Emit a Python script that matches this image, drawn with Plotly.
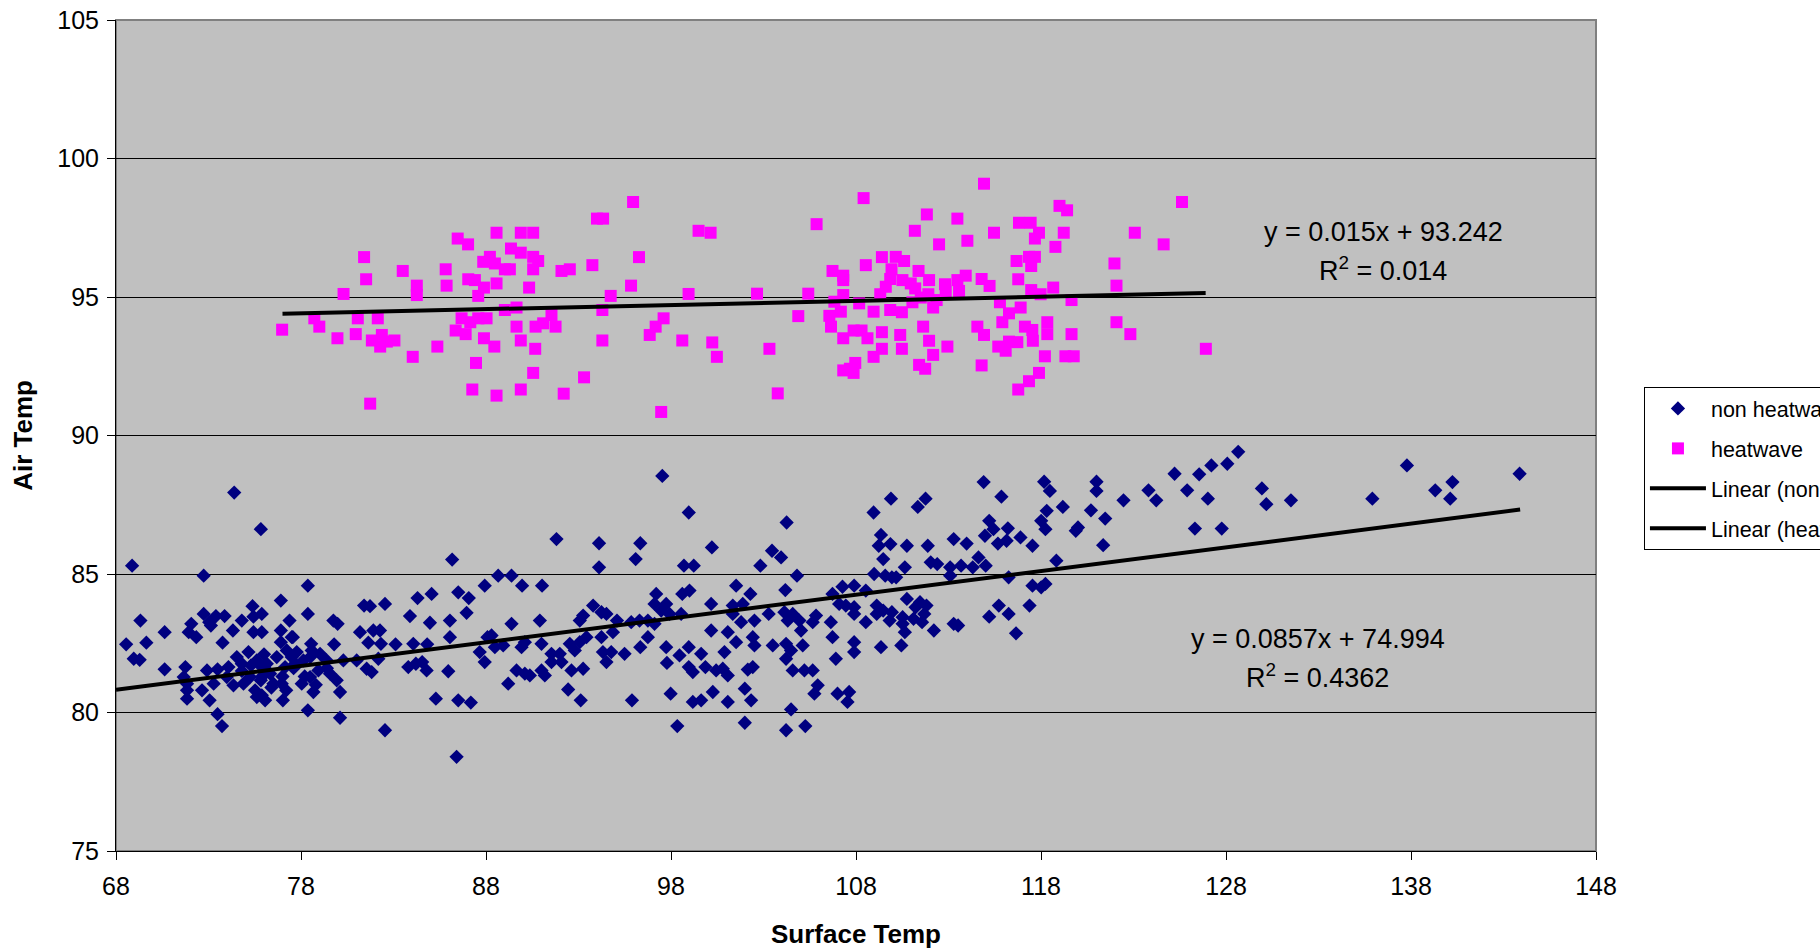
import plotly.graph_objects as go

# ---------------- data ----------------
nonhw_x = [
    74.39, 75.83, 68.87, 72.74, 78.37, 86.17, 86.50, 87.07, 87.93, 76.91,
    75.38, 75.88, 75.43, 72.74, 73.40, 73.87, 73.04, 74.80, 69.32, 72.07,
    71.93, 72.34, 73.13, 74.32, 75.43, 75.88, 77.38, 78.37, 76.91, 77.56,
    70.63, 68.55, 69.64, 68.96, 69.28, 70.63, 73.76, 75.16, 76.91, 78.55,
    79.75, 79.98, 79.79, 81.19, 81.41, 81.73, 82.54, 81.91, 82.27, 81.64,
    82.32, 83.11, 83.89, 84.30, 85.06, 84.97, 86.05, 86.95, 86.05, 84.07,
    84.82, 88.08, 87.66, 87.93, 83.80, 84.21, 84.55, 84.79, 85.96, 85.29,
    86.50, 87.18, 86.41, 82.54, 80.11, 78.37, 73.49, 73.73, 71.84, 71.84,
    71.75, 71.66, 72.65, 73.06, 73.28, 72.92, 73.49, 74.08, 74.35, 74.89,
    75.25, 75.61, 75.88, 75.52, 76.06, 75.83, 76.33, 76.51, 77.02, 76.96,
    77.14, 77.50, 77.77, 78.13, 78.04, 78.67, 78.49, 78.94, 79.03, 79.39,
    79.57, 80.11, 79.93, 80.29, 81.01, 81.55, 81.82, 76.69, 76.15, 74.80,
    74.53, 73.99, 77.23, 78.58, 75.61, 75.88, 77.50, 71.84, 82.18, 77.68,
    74.80, 75.30, 75.90, 76.40, 77.00, 77.60, 78.20, 78.80, 79.40, 76.00,
    77.20, 78.50,
    97.53, 98.96, 104.25, 108.95, 91.81, 94.11, 96.34, 96.09, 94.11, 100.21,
    98.70, 99.23, 103.46, 103.95, 102.83, 104.81, 88.66, 89.38, 89.95, 91.03,
    98.61, 99.00, 97.20, 101.52, 102.29, 104.18, 107.27, 107.90, 108.53, 108.98,
    93.79, 94.24, 94.51, 93.25, 93.07, 95.08, 95.85, 96.30, 96.75, 97.11,
    97.47, 97.74, 97.92, 98.55, 97.11, 100.17, 101.34, 101.88, 101.34, 101.79,
    102.51, 103.28, 104.13, 104.58, 104.94, 104.31, 105.84, 105.66, 106.73, 107.09,
    107.45, 107.90, 106.64, 108.53, 107.90, 89.38, 90.91, 88.30, 88.48, 88.93,
    89.92, 90.10, 91.00, 91.54, 91.99, 92.53, 93.07, 93.43, 92.80, 94.24,
    94.32, 94.86, 94.77, 95.49, 96.34, 96.75, 97.74, 98.46, 98.96, 99.63,
    100.17, 101.07, 100.89, 101.52, 102.42, 102.51, 103.50, 104.22, 104.49, 105.03,
    105.12, 106.73, 107.90, 107.90, 106.91, 89.65, 90.10, 90.37, 91.00, 91.18,
    91.54, 92.08, 92.62, 93.25, 94.51, 89.20, 92.44, 93.12, 95.89, 97.78,
    98.96, 99.18, 99.86, 100.44, 100.80, 101.07, 102.15, 102.42, 104.22, 104.58,
    105.21, 105.66, 105.93, 105.75, 107.00, 107.63, 107.54, 97.98, 100.26, 99.18,
    99.63, 101.07, 101.99, 102.33, 98.34, 101.99, 104.49, 104.22, 105.26,
    128.66, 128.07, 127.21, 126.55, 125.22, 137.78, 143.87, 140.24, 139.31, 140.12,
    135.91, 129.94, 130.18, 131.51, 125.90, 127.02, 123.81, 124.23, 122.46, 121.00,
    121.00, 120.70, 121.47, 121.36, 126.32, 127.77, 118.17, 118.48, 119.18, 118.31,
    118.01, 118.24, 119.88, 120.00, 118.83, 117.54, 114.90, 115.86, 115.20, 114.97,
    115.43, 116.21, 115.67, 116.14, 116.89, 111.34, 111.76, 109.89, 109.35, 109.23,
    109.47, 109.58, 109.94, 110.17, 109.86, 110.75, 110.64, 111.88, 112.04, 112.39,
    113.09, 113.28, 113.98, 113.68, 114.31, 114.62, 115.01, 113.09, 116.25, 117.54,
    118.01, 117.38, 118.24, 109.12, 109.47, 109.94, 109.12, 109.82, 110.52, 110.75,
    111.22, 111.46, 111.81, 111.69, 111.11, 111.57, 110.52, 110.64, 112.21, 113.28,
    113.52, 115.20, 115.72, 116.25, 116.65, 109.35, 110.45,
]
nonhw_y = [
    87.94, 86.62, 85.30, 84.94, 84.58, 85.52, 84.34, 84.13, 84.58, 84.04,
    83.84, 83.56, 83.46, 83.56, 83.48, 83.48, 83.26, 83.32, 83.32, 83.20,
    82.90, 82.72, 83.14, 82.96, 82.90, 82.90, 83.32, 83.56, 82.96, 82.72,
    82.90, 82.46, 82.52, 81.94, 81.90, 81.56, 82.52, 82.18, 82.54, 82.48,
    83.32, 83.20, 82.46, 82.90, 83.86, 83.84, 83.92, 82.96, 82.96, 82.52,
    82.48, 82.46, 83.48, 84.13, 84.28, 83.24, 83.32, 83.60, 82.72, 82.48,
    82.46, 82.72, 82.18, 81.82, 81.64, 81.76, 81.82, 81.52, 81.49, 80.50,
    80.44, 80.36, 78.40, 79.36, 79.81, 80.08, 79.94, 79.51, 80.50, 80.80,
    81.64, 81.28, 80.80, 80.44, 81.04, 81.52, 81.56, 81.64, 80.98, 81.04,
    81.28, 81.88, 81.64, 80.80, 80.44, 81.16, 81.40, 81.04, 80.44, 81.04,
    81.64, 82.00, 82.18, 81.88, 81.04, 80.74, 81.28, 81.52, 82.12, 81.88,
    81.40, 80.74, 81.16, 81.88, 81.88, 81.58, 81.46, 82.00, 81.76, 81.76,
    82.00, 81.28, 82.24, 82.24, 80.56, 80.62, 82.72, 81.04, 81.94, 81.76,
    81.50, 81.70, 81.30, 80.90, 81.30, 81.60, 81.30, 81.00, 81.60, 82.10,
    80.80, 82.00,
    88.54, 87.22, 86.86, 87.22, 86.26, 86.11, 86.11, 85.54, 85.24, 85.96,
    85.30, 85.30, 85.84, 85.60, 85.30, 84.94, 84.94, 84.94, 84.58, 84.58,
    84.28, 84.40, 84.28, 84.58, 84.28, 84.42, 84.54, 84.58, 84.40, 85.00,
    83.86, 83.62, 83.56, 83.50, 83.32, 83.32, 83.26, 83.32, 83.32, 83.92,
    83.68, 83.92, 83.56, 83.56, 83.20, 83.92, 83.86, 83.92, 83.56, 83.26,
    83.32, 83.56, 83.62, 83.56, 83.32, 83.32, 83.50, 83.26, 84.28, 83.92,
    83.86, 83.80, 83.26, 83.26, 83.56, 83.20, 83.32, 82.78, 82.36, 82.42,
    82.36, 82.54, 82.48, 82.12, 82.12, 82.48, 82.54, 82.72, 82.24, 82.72,
    82.18, 82.90, 82.18, 82.12, 82.36, 82.72, 82.36, 82.06, 82.36, 82.12,
    82.96, 82.90, 82.18, 82.54, 82.72, 82.42, 82.42, 82.48, 82.24, 82.96,
    82.42, 82.72, 82.54, 82.18, 81.94, 81.52, 81.40, 81.34, 81.52, 81.34,
    81.82, 81.82, 81.52, 81.58, 81.82, 81.04, 80.83, 80.44, 80.44, 81.79,
    81.64, 81.46, 81.64, 81.52, 81.58, 81.34, 81.55, 81.64, 81.94, 81.52,
    81.52, 81.52, 80.98, 80.68, 80.68, 80.74, 80.38, 80.68, 80.74, 80.38,
    80.44, 80.38, 80.86, 80.44, 79.51, 79.63, 80.11, 79.36, 79.51,
    89.41, 88.98, 88.92, 88.60, 88.62, 88.92, 88.62, 88.32, 88.02, 87.72,
    87.72, 88.09, 87.52, 87.66, 88.02, 87.72, 88.02, 87.66, 87.66, 88.33,
    88.00, 87.30, 87.00, 86.04, 86.64, 86.64, 88.33, 88.00, 87.42, 87.28,
    86.92, 86.62, 86.56, 86.68, 85.48, 86.02, 88.32, 87.79, 86.92, 86.38,
    86.62, 86.65, 86.10, 86.20, 86.32, 87.42, 87.72, 87.72, 86.41, 86.02,
    85.54, 84.94, 84.88, 84.88, 86.08, 86.02, 85.24, 86.02, 85.42, 85.36,
    85.24, 86.26, 86.10, 85.30, 85.24, 85.60, 85.30, 84.94, 84.88, 84.58,
    84.52, 83.86, 84.64, 83.86, 83.68, 83.62, 83.56, 83.32, 83.44, 84.10,
    83.80, 83.98, 83.86, 83.56, 83.38, 83.26, 83.20, 82.90, 82.96, 83.20,
    83.14, 83.46, 83.86, 83.56, 82.86, 82.36, 82.42,
]

hw_x = [
    76.98,
    78.72, 78.99, 80.30, 79.97, 80.96, 81.07, 81.41, 81.52, 81.74, 82.15,
    81.83, 82.37, 82.28, 82.64, 83.05, 83.50, 84.04, 84.26, 84.26, 85.37,
    85.82, 85.87, 86.47, 87.03, 86.36, 86.68, 86.90, 87.15, 87.04, 87.40,
    87.58, 87.89, 87.46, 87.26, 87.85, 88.21, 88.48, 88.57, 88.57, 87.58,
    88.03, 87.89, 88.45, 88.57, 89.02, 89.02, 89.29, 89.35, 89.65, 89.88,
    89.88, 89.65, 89.88, 89.88, 90.33, 90.55, 90.55, 90.82, 90.55, 90.68,
    90.66, 90.55, 91.09, 91.54, 91.76, 92.08, 92.53, 92.20, 93.30, 93.75,
    94.00, 94.33, 94.29, 94.29, 94.74, 95.95, 96.27, 95.84, 96.85, 97.17,
    97.60, 97.47, 98.61, 98.95, 99.49, 100.14, 100.23, 100.48,
    102.65, 103.32, 103.77, 104.88, 105.42, 105.87, 106.73, 107.31, 107.31, 107.31,
    106.83, 106.56, 106.65, 107.18, 107.31, 107.31, 107.67, 107.87, 107.96, 107.87,
    108.30, 108.17, 108.62, 108.53, 108.41, 108.95, 108.95, 109.40, 109.40, 109.40,
    109.31, 109.61, 109.85, 109.92, 110.15, 110.60, 109.85, 110.48, 110.39, 110.48,
    110.51, 110.96, 111.18, 111.38, 111.20, 111.05, 111.50, 111.63, 111.83, 111.95,
    111.91, 112.17, 112.36, 111.95, 112.17, 111.41, 111.74, 112.49, 112.81, 112.85,
    112.94, 113.48, 113.48, 113.57, 113.93, 114.02, 114.56, 114.92, 114.79, 115.22,
    114.79, 114.92, 115.46, 115.78, 115.91, 115.69, 116.09, 116.27, 116.27, 116.68,
    116.77, 116.81, 116.90, 116.72, 116.77, 117.13, 117.35, 117.44, 117.35, 117.67,
    117.47, 117.67, 117.89, 117.47, 117.98, 117.53, 117.56, 117.89, 118.21, 118.34,
    118.34, 118.66, 118.78, 119.00, 119.41, 119.23, 119.65, 119.65, 119.32, 119.77,
    121.97, 122.08, 122.08, 122.83, 123.07, 124.63, 125.62, 126.91,
]
hw_y = [
    93.82,
    94.23, 93.93, 95.11, 93.51, 93.66, 94.23, 96.44, 95.64, 91.15, 94.23,
    93.43, 93.63, 93.21, 93.39, 93.43, 95.94, 92.84, 95.41, 95.07, 93.21,
    96.00, 95.41, 97.11, 96.90, 93.79, 94.23, 93.66, 94.09, 95.64, 95.61,
    95.04, 95.34, 92.62, 91.66, 96.27, 96.45, 96.21, 97.32, 95.49, 94.23,
    94.23, 93.51, 93.21, 91.44, 94.53, 96.00, 96.00, 96.75, 94.62, 97.32,
    96.60, 93.93, 93.43, 91.66, 95.34, 97.32, 96.45, 96.30, 96.00, 93.93,
    93.13, 92.26, 94.05, 94.35, 93.93, 95.94, 96.00, 91.51, 92.10, 96.15,
    97.83, 97.83, 94.53, 93.43, 95.04, 98.43, 96.44, 95.41, 93.63, 93.93,
    94.23, 90.85, 93.43, 95.11, 97.39, 97.32, 93.36, 92.84,
    95.12, 93.13, 91.52, 94.31, 95.12, 97.63, 95.94, 95.77, 95.61, 95.07,
    94.83, 94.32, 93.93, 94.47, 93.51, 92.35, 92.41, 92.26, 92.62, 93.79,
    93.79, 94.77, 93.51, 96.15, 98.57, 94.47, 92.84, 96.44, 93.73, 93.13,
    95.10, 95.37, 95.65, 96.00, 96.45, 96.30, 94.53, 94.45, 93.63, 93.13,
    95.61, 95.49, 97.39, 95.94, 95.31, 94.81, 94.98, 93.93, 97.98, 95.61,
    95.10, 94.62, 94.89, 93.42, 92.91, 92.55, 92.41, 96.90, 95.46, 95.19,
    93.21, 97.83, 95.61, 95.22, 95.77, 97.03, 93.93, 93.63, 95.65, 95.40,
    92.53, 99.09, 97.32, 94.81, 94.09, 93.21, 93.06, 94.41, 93.39, 96.30,
    95.64, 97.68, 94.62, 93.37, 91.66, 93.93, 91.96, 97.68, 96.45, 96.45,
    96.12, 97.11, 97.32, 95.25, 95.10, 93.81, 93.42, 92.26, 92.86, 94.09,
    93.66, 95.34, 96.81, 98.29, 98.13, 97.32, 94.89, 93.66, 92.86, 92.86,
    96.21, 95.41, 94.09, 93.66, 97.32, 96.90, 98.43, 93.13,
]

# linear trendlines (Excel): slope, intercept, x span
nonhw_slope, nonhw_intercept = 0.0857, 74.994
hw_slope, hw_intercept = 0.015, 93.242
nonhw_trend_x = [68.0, 143.9]
hw_trend_x = [77.0, 126.9]
nonhw_trend_y = [nonhw_slope * v + nonhw_intercept for v in nonhw_trend_x]
hw_trend_y = [hw_slope * v + hw_intercept for v in hw_trend_x]

x_ticks = [68, 78, 88, 98, 108, 118, 128, 138, 148]
y_ticks = [75, 80, 85, 90, 95, 100, 105]

FONT = "Liberation Sans, Arial, sans-serif"

fig = go.Figure()
fig.add_trace(go.Scatter(
    x=nonhw_x, y=nonhw_y, mode="markers", name="non heatwave",
    legendgroup="a",
    marker=dict(symbol="diamond", size=11, color="#000080", line=dict(width=0)),
))
fig.add_trace(go.Scatter(
    x=hw_x, y=hw_y, mode="markers", name="heatwave",
    legendgroup="b",
    marker=dict(symbol="square", size=12, color="#FF00FF", line=dict(width=0)),
))
fig.add_trace(go.Scatter(
    x=nonhw_trend_x, y=nonhw_trend_y, mode="lines", name="Linear (non heatwave)",
    legendgroup="c",
    line=dict(color="black", width=4),
))
fig.add_trace(go.Scatter(
    x=hw_trend_x, y=hw_trend_y, mode="lines", name="Linear (heatwave)",
    legendgroup="d",
    line=dict(color="black", width=4),
))

ann_font = dict(family=FONT, size=27, color="black")
fig.add_annotation(x=136.5, y=97.36, text="y = 0.015x + 93.242", showarrow=False, font=ann_font)
fig.add_annotation(x=136.5, y=96.0, text="R<sup>2</sup> = 0.014", showarrow=False, font=ann_font)
fig.add_annotation(x=132.97, y=82.64, text="y = 0.0857x + 74.994", showarrow=False, font=ann_font)
fig.add_annotation(x=132.97, y=81.33, text="R<sup>2</sup> = 0.4362", showarrow=False, font=ann_font)

# plot-area border
fig.add_shape(type="rect", xref="paper", yref="paper", x0=0, y0=0, x1=1, y1=1,
              line=dict(color="#808080", width=2), layer="below")

fig.update_layout(
    width=1820, height=950,
    margin=dict(l=116, r=224, t=20, b=99, autoexpand=False),
    paper_bgcolor="white",
    plot_bgcolor="#C0C0C0",
    font=dict(family=FONT, size=25, color="black"),
    showlegend=True,
    legend=dict(
        x=1.0324, y=0.5584, xanchor="left", yanchor="top",
        bgcolor="white", bordercolor="black", borderwidth=1,
        font=dict(family=FONT, size=21.5, color="black"),
        traceorder="grouped", tracegroupgap=9, itemwidth=56,
    ),
    xaxis=dict(
        range=[68, 148], tickvals=x_ticks, ticks="outside", ticklen=8, tickwidth=1,
        tickcolor="black", showline=True, linecolor="black", linewidth=1,
        showgrid=False, zeroline=False, ticklabelstandoff=5,
        tickfont=dict(family=FONT, size=25, color="black"),
        title=dict(text="<b>Surface Temp</b>", font=dict(family=FONT, size=26, color="black"), standoff=25),
    ),
    yaxis=dict(
        range=[75, 105], tickvals=y_ticks, ticks="outside", ticklen=8, tickwidth=1,
        tickcolor="black", showline=True, linecolor="black", linewidth=1,
        showgrid=True, gridcolor="black", gridwidth=1, zeroline=False,
        ticklabelstandoff=3,
        tickfont=dict(family=FONT, size=25, color="black"),
        title=dict(text="<b>Air Temp</b>", font=dict(family=FONT, size=26, color="black"), standoff=17),
    ),
)

fig.write_html(
    "out.html",
    config={"displayModeBar": False},
    post_script="document.body.style.margin='0';document.body.style.overflow='hidden';",
)
